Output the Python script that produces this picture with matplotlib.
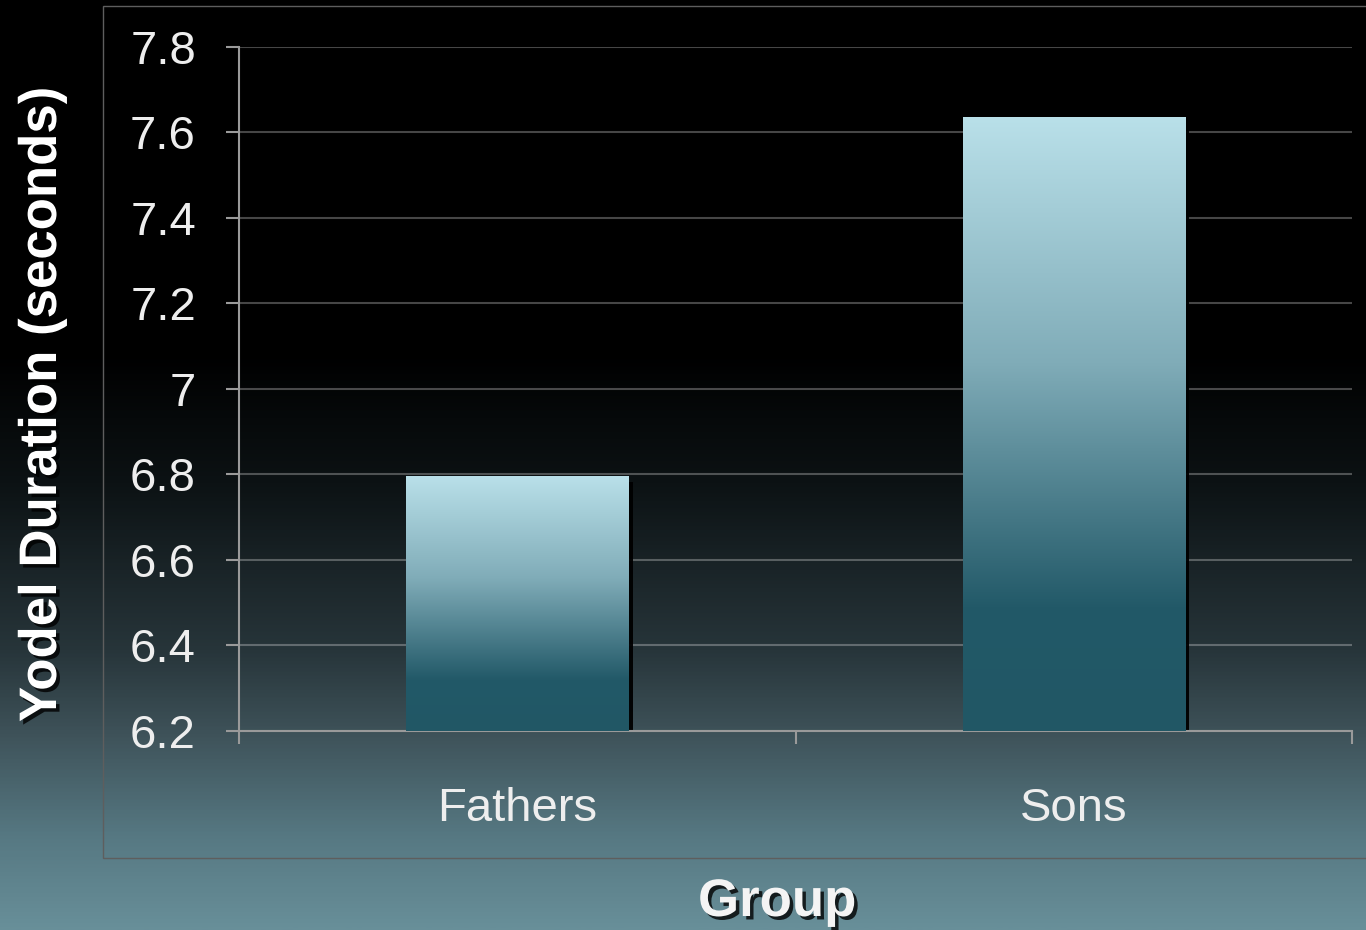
import numpy as np
import matplotlib.pyplot as plt
import matplotlib.patheffects as pe
from matplotlib.colors import LinearSegmentedColormap
from matplotlib.patches import Rectangle

groups = ['Fathers', 'Sons']
durations = [6.795, 7.635]
y_ticks = [6.2, 6.4, 6.6, 6.8, 7.0, 7.2, 7.4, 7.6, 7.8]
y_tick_labels = ['6.2', '6.4', '6.6', '6.8', '7', '7.2', '7.4', '7.6', '7.8']

plt.rcParams['font.family'] = ['Liberation Sans', 'DejaVu Sans']

fig = plt.figure(figsize=(13.66, 9.3), dpi=100)

# background: black at the top fading into slate teal
bg_cmap = LinearSegmentedColormap.from_list('bg', [
    (0.0, '#000000'), (0.38, '#000000'), (0.52, '#0c1214'),
    (0.70, '#27353a'), (0.79, '#3e5259'), (0.90, '#567882'), (1.0, '#688f99')])
bg = fig.add_axes([0, 0, 1, 1], zorder=0)
bg.imshow(np.linspace(0, 1, 512).reshape(-1, 1), aspect='auto', cmap=bg_cmap)
bg.axis('off')

# thin frame around the chart area
frame = Rectangle((0.0754, 0.0774), 1.0, 0.9161, transform=fig.transFigure,
                  fill=False, edgecolor='#5e5e5e', lw=1, zorder=0.5)
fig.add_artist(frame)

ax = fig.add_axes([0.175, 0.214, 0.8148, 0.7355], zorder=1)
ax.set_facecolor('none')

bar_cmap = LinearSegmentedColormap.from_list('bar', [
    (0.0, '#b9e0e9'), (0.4, '#80acb8'), (0.8, '#225968'), (1.0, '#215765')])

x = np.arange(len(groups))
base = 6.2
bars = ax.bar(x, np.array(durations) - base, bottom=base, width=0.4,
              color='none', zorder=3)
for b in bars:
    x0, y0, w, h = b.get_x(), b.get_y(), b.get_width(), b.get_height()
    # dark drop shadow on the right edge
    ax.add_patch(Rectangle((x0 + 0.0075, y0), w, h - 0.012,
                           facecolor='black', alpha=0.95, zorder=2))
    ax.imshow(np.linspace(0, 1, 256).reshape(-1, 1), cmap=bar_cmap,
              aspect='auto', extent=[x0, x0 + w, y0, y0 + h], zorder=3)

ax.set_xlim(-0.5, 1.5)
ax.set_ylim(6.2, 7.8)

ax.set_yticks(y_ticks, y_tick_labels)
ax.set_xticks([-0.5, 0.5, 1.5])
ax.set_xticklabels([])
ax.set_xticks(x, minor=True)
ax.set_xticklabels(groups, minor=True)

ax.tick_params(axis='y', colors='#9a9a9a', width=1.5, length=9.4, pad=21.6,
               labelsize=34, labelcolor='#eeeeee')
ax.tick_params(axis='x', which='major', colors='#9a9a9a', width=1.5, length=9)
ax.tick_params(axis='x', which='minor', length=0, pad=40,
               labelsize=34, labelcolor='#eeeeee')

for side in ['top', 'right']:
    ax.spines[side].set_visible(False)
for side in ['left', 'bottom']:
    ax.spines[side].set_color('#9a9a9a')
    ax.spines[side].set_linewidth(1.5)

ax.set_axisbelow(True)
ax.yaxis.grid(True, color='white', alpha=0.28, lw=1.5)

shadow = [pe.withSimplePatchShadow(offset=(2.5, -2.5), shadow_rgbFace='black', alpha=0.8)]
fig.text(42 / 1366, 1 - 405 / 930, 'Yodel Duration (seconds)', rotation=90,
         ha='center', va='center', fontsize=38, fontweight='bold',
         color='white', path_effects=shadow)
fig.text(777 / 1366, 1 - 902 / 930, 'Group', ha='center', va='center',
         fontsize=38, fontweight='bold', color='#f4f4f4', path_effects=shadow)

fig.savefig('out.png', dpi=100)
